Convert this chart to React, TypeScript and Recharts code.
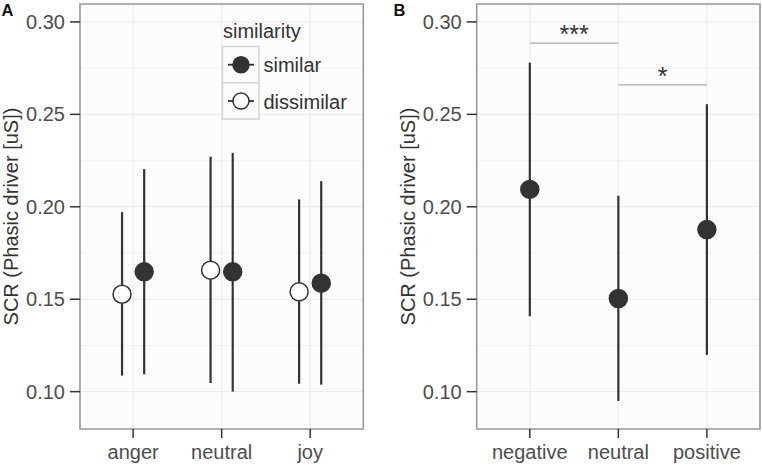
import React from 'react'
import {
  ComposedChart,
  Scatter,
  ErrorBar,
  XAxis,
  YAxis,
  CartesianGrid,
  ReferenceArea,
  ReferenceLine,
} from 'recharts'

// panel A: emotion x similarity
const emotions = ['anger', 'neutral', 'joy']
const similarMean = [0.1648, 0.1648, 0.1587]
const similarLow = [0.1094, 0.1, 0.1038]
const similarHigh = [0.2204, 0.2292, 0.2139]
const dissimilarMean = [0.1527, 0.1657, 0.154]
const dissimilarLow = [0.1087, 0.1047, 0.1043]
const dissimilarHigh = [0.1971, 0.2271, 0.204]

// panel B: valence
const valences = ['negative', 'neutral', 'positive']
const valenceMean = [0.2094, 0.1504, 0.1877]
const valenceLow = [0.1408, 0.095, 0.1199]
const valenceHigh = [0.278, 0.206, 0.2555]

const brackets = [
  { from: 0, to: 1, y: 0.2885, label: '***' },
  { from: 1, to: 2, y: 0.2659, label: '*' },
]

const yTicks = [0.1, 0.15, 0.2, 0.25, 0.3]
const yMinor = [0.125, 0.175, 0.225, 0.275]
const yDomain = [0.0798, 0.3097]
const xDomain = [-0.6, 2.6]
const yTitle = 'SCR (Phasic driver [uS])'
const dodge = 0.125

const FONT = '"Liberation Sans", Arial, Helvetica, sans-serif'
const INK = '#333333'
const TICK_TEXT = '#4d4d4d'

const toPoints = (mean: number[], low: number[], high: number[], shift = 0) =>
  mean.map((m, i) => ({ x: i + shift, y: m, err: [m - low[i], high[i] - m] }))

const dot = (fill: string) => (p: any) => (
  <circle cx={p.cx} cy={p.cy} r={9} fill={fill} stroke={INK} strokeWidth={1.5} />
)

function Panel({
  cats,
  series,
  yAxisWidth,
  titleOffset,
  right,
  children,
}: {
  cats: string[]
  series: { data: any[]; fill: string; name: string }[]
  yAxisWidth: number
  titleOffset: number
  right: number
  children?: React.ReactNode
}) {
  return (
    <ComposedChart
      width={yAxisWidth + 283.3 + right}
      height={465}
      margin={{ top: 4, right, bottom: 0, left: 0 }}
      style={{ fontFamily: FONT }}
    >
      <CartesianGrid
        fill="#fcfcfc"
        stroke="#f3f3f3"
        strokeWidth={1}
        vertical={false}
        horizontalValues={yMinor}
      />
      <CartesianGrid stroke="#e9e9e9" strokeWidth={1} />
      <XAxis
        type="number"
        dataKey="x"
        domain={xDomain}
        ticks={[0, 1, 2]}
        tickFormatter={(v: number) => cats[v]}
        allowDataOverflow
        height={36}
        axisLine={false}
        tickSize={9}
        tickMargin={7}
        tickLine={{ stroke: INK, strokeWidth: 1.5 }}
        tick={{ fill: TICK_TEXT, fontSize: 20 }}
      />
      <YAxis
        type="number"
        dataKey="y"
        domain={yDomain}
        ticks={yTicks}
        allowDataOverflow
        width={yAxisWidth}
        axisLine={false}
        tickSize={10}
        tickMargin={5}
        tickLine={{ stroke: INK, strokeWidth: 1.5 }}
        tick={{ fill: TICK_TEXT, fontSize: 20 }}
        tickFormatter={(v: number) => v.toFixed(2)}
        label={{
          value: yTitle,
          angle: -90,
          position: 'insideLeft',
          offset: titleOffset,
          fill: INK,
          fontSize: 20,
          style: { textAnchor: 'middle' },
        }}
      />
      {series.map((s) => (
        <Scatter
          key={s.name}
          name={s.name}
          data={s.data}
          isAnimationActive={false}
          shape={dot(s.fill)}
        >
          <ErrorBar dataKey="err" direction="y" width={0} stroke={INK} strokeWidth={2.2} />
        </Scatter>
      ))}
      {children}
      <ReferenceArea
        x1={xDomain[0]}
        x2={xDomain[1]}
        y1={yDomain[0]}
        y2={yDomain[1]}
        fill="none"
        stroke="#9a9a9a"
        strokeWidth={1.6}
        ifOverflow="visible"
      />
    </ComposedChart>
  )
}

function LegendBox() {
  const items = [
    { name: 'similar', fill: INK },
    { name: 'dissimilar', fill: '#ffffff' },
  ]
  return (
    <svg
      width={762}
      height={465}
      style={{ position: 'absolute', left: 0, top: 0, pointerEvents: 'none', fontFamily: FONT }}
    >
      <text x={1.5} y={15.5} fontSize={16.5} fontWeight="bold" fill="#111">A</text>
      <text x={393.5} y={15.5} fontSize={16.5} fontWeight="bold" fill="#111">B</text>
      <text x={223} y={37.5} fontSize={20} fill={INK}>similarity</text>
      {items.map((it, i) => {
        const top = 46.5 + i * 36.3
        const cy = top + 18.2
        return (
          <g key={it.name}>
            <rect x={222.5} y={top} width={36.5} height={36.3} fill="#fcfcfc" stroke="#d6d6d6" strokeWidth={1.6} />
            <line x1={228} x2={254} y1={cy} y2={cy} stroke={INK} strokeWidth={1.8} />
            <circle cx={241} cy={cy} r={8} fill={it.fill} stroke={INK} strokeWidth={1.5} />
            <text x={263.5} y={cy + 7.5} fontSize={20} fill={INK}>{it.name}</text>
          </g>
        )
      })}
    </svg>
  )
}

export default function App() {
  const seriesA = [
    { name: 'similar', fill: INK, data: toPoints(similarMean, similarLow, similarHigh, dodge) },
    { name: 'dissimilar', fill: '#ffffff', data: toPoints(dissimilarMean, dissimilarLow, dissimilarHigh, -dodge) },
  ]
  const seriesB = [
    { name: 'valence', fill: INK, data: toPoints(valenceMean, valenceLow, valenceHigh) },
  ]
  return (
    <div
      style={{
        position: 'absolute',
        left: 0,
        top: 0,
        width: 762,
        height: 465,
        background: '#ffffff',
        overflow: 'hidden',
        fontFamily: FONT,
      }}
    >
      <div style={{ position: 'absolute', left: 0, top: 0 }}>
        <Panel cats={emotions} series={seriesA} yAxisWidth={80} titleOffset={11} right={16.7} />
      </div>
      <div style={{ position: 'absolute', left: 380, top: 0 }}>
        <Panel cats={valences} series={seriesB} yAxisWidth={96.7} titleOffset={28} right={2}>
          {brackets.map((b) => (
            <ReferenceLine
              key={b.label}
              segment={[
                { x: b.from, y: b.y },
                { x: b.to, y: b.y },
              ]}
              stroke="#ababab"
              strokeWidth={1.3}
              ifOverflow="visible"
              label={{ value: b.label, position: 'top', offset: 0, fill: INK, fontSize: 25 }}
            />
          ))}
        </Panel>
      </div>
      <LegendBox />
    </div>
  )
}
